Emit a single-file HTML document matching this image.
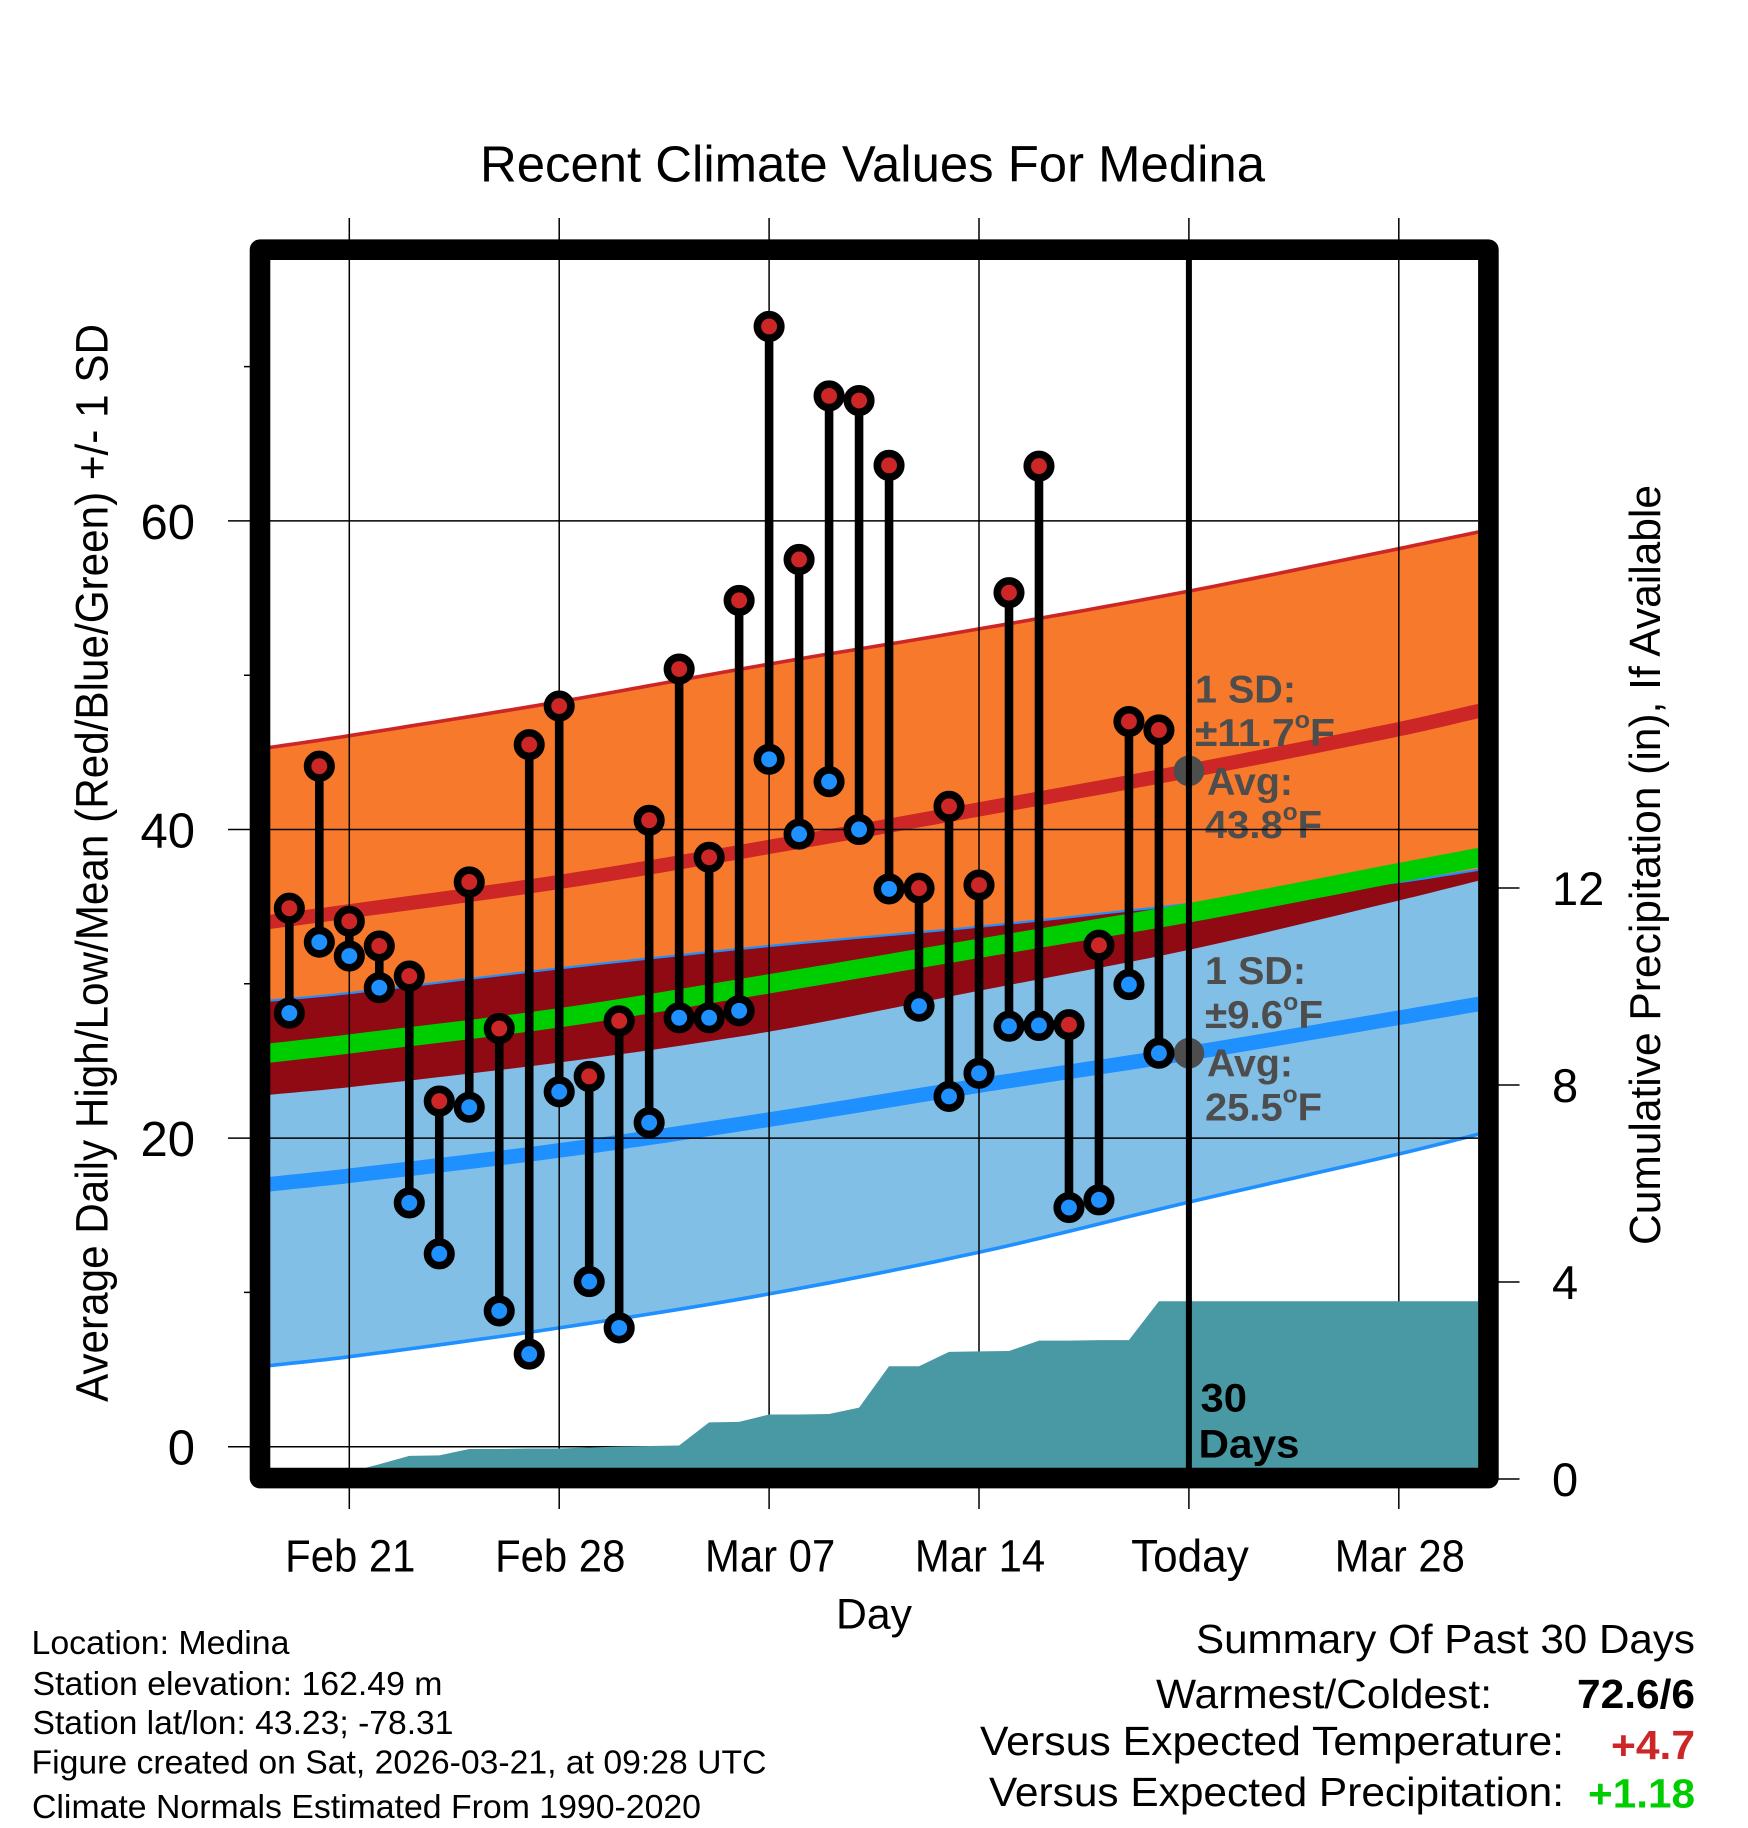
<!DOCTYPE html>
<html lang="en">
<head>
<meta charset="utf-8">
<title>Recent Climate Values For Medina</title>
<style>
  html, body { margin: 0; padding: 0; background: #fff; }
  svg { display: block; font-family: "Liberation Sans", Arial, sans-serif; }
</style>
</head>
<body>
<svg xmlns="http://www.w3.org/2000/svg" width="1748" height="1828" viewBox="0 0 1748 1828">
  <defs>
    <clipPath id="plot-clip"><rect x="270" y="260" width="1208" height="1208"/></clipPath>
  </defs>
  <rect x="0" y="0" width="1748" height="1828" fill="#ffffff"/>

  <g id="bands" clip-path="url(#plot-clip)"></g>

  <g id="annotations" fill="#4d4d4d" font-weight="700" font-size="39">
    <text x="1195" y="702.6" textLength="101" lengthAdjust="spacingAndGlyphs">1 SD:</text>
    <text x="1195" y="746" textLength="140" lengthAdjust="spacingAndGlyphs">±11.7<tspan dy="-18" font-size="24">o</tspan><tspan dy="18">F</tspan></text>
    <text x="1207" y="795" textLength="86" lengthAdjust="spacingAndGlyphs">Avg:</text>
    <text x="1205" y="838" textLength="117" lengthAdjust="spacingAndGlyphs">43.8<tspan dy="-18" font-size="24">o</tspan><tspan dy="18">F</tspan></text>
    <text x="1205" y="984" textLength="101" lengthAdjust="spacingAndGlyphs">1 SD:</text>
    <text x="1205" y="1028" textLength="118" lengthAdjust="spacingAndGlyphs">±9.6<tspan dy="-18" font-size="24">o</tspan><tspan dy="18">F</tspan></text>
    <text x="1207" y="1076.5" textLength="86" lengthAdjust="spacingAndGlyphs">Avg:</text>
    <text x="1205" y="1120.5" textLength="117" lengthAdjust="spacingAndGlyphs">25.5<tspan dy="-18" font-size="24">o</tspan><tspan dy="18">F</tspan></text>
  </g>

  <g id="grid"></g>
  <g id="precip" clip-path="url(#plot-clip)"></g>
  <g id="today"></g>
  <g id="stems"></g>
  <g id="dots"></g>

  <text x="1200.5" y="1411.7" font-size="40" font-weight="700" textLength="46.5" lengthAdjust="spacingAndGlyphs">30</text>
  <text x="1198.5" y="1457.3" font-size="40" font-weight="700" textLength="101" lengthAdjust="spacingAndGlyphs">Days</text>

  <rect x="260" y="249.7" width="1228.4" height="1228.4" fill="none" stroke="#000" stroke-width="20.6" stroke-linejoin="round"/>

  <g id="tick-labels"></g>

  <text x="480" y="181.7" font-size="51" textLength="785" lengthAdjust="spacingAndGlyphs">Recent Climate Values For Medina</text>
  <text transform="translate(107.5,1402) rotate(-90)" font-size="45" textLength="1078" lengthAdjust="spacingAndGlyphs">Average Daily High/Low/Mean (Red/Blue/Green) +/- 1 SD</text>
  <text transform="translate(1660,1245) rotate(-90)" font-size="44" textLength="760" lengthAdjust="spacingAndGlyphs">Cumulative Precipitation (in), If Available</text>
  <text x="836" y="1628.5" font-size="43" textLength="76" lengthAdjust="spacingAndGlyphs">Day</text>

  <g font-size="33.5">
    <text x="31.5" y="1654" textLength="258" lengthAdjust="spacingAndGlyphs">Location: Medina</text>
    <text x="32.5" y="1695" textLength="410" lengthAdjust="spacingAndGlyphs">Station elevation: 162.49 m</text>
    <text x="32.5" y="1734" textLength="421" lengthAdjust="spacingAndGlyphs">Station lat/lon: 43.23; -78.31</text>
    <text x="31.5" y="1773.3" textLength="735" lengthAdjust="spacingAndGlyphs">Figure created on Sat, 2026-03-21, at 09:28 UTC</text>
    <text x="32" y="1817.8" textLength="669" lengthAdjust="spacingAndGlyphs">Climate Normals Estimated From 1990-2020</text>
  </g>

  <g font-size="41">
    <text x="1196" y="1653" textLength="499" lengthAdjust="spacingAndGlyphs">Summary Of Past 30 Days</text>
    <text x="1156" y="1708" textLength="336" lengthAdjust="spacingAndGlyphs">Warmest/Coldest:</text>
    <text x="1577" y="1708" font-weight="700" textLength="118" lengthAdjust="spacingAndGlyphs">72.6/6</text>
    <text x="980" y="1755" textLength="584" lengthAdjust="spacingAndGlyphs">Versus Expected Temperature:</text>
    <text x="1611" y="1759" font-weight="700" fill="#cd2626" textLength="84" lengthAdjust="spacingAndGlyphs">+4.7</text>
    <text x="989" y="1806" textLength="575" lengthAdjust="spacingAndGlyphs">Versus Expected Precipitation:</text>
    <text x="1588" y="1807.7" font-weight="700" fill="#00cd00" textLength="107" lengthAdjust="spacingAndGlyphs">+1.18</text>
  </g>
</svg>

<script>
// ---- Daily observations (one entry per day, Feb 19 .. Mar 20) ----
const dailyDays = [-2,-1,0,1,2,3,4,5,6,7,8,9,10,11,12,13,14,15,16,17,18,19,20,21,22,23,24,25,26,27];
const dailyHighs = [34.9,44.1,34.05,32.45,30.5,22.4,36.6,27.1,45.5,48.0,24.0,27.6,40.6,50.4,38.2,54.85,72.6,57.5,68.1,67.8,63.6,36.2,41.5,36.4,55.35,63.55,27.35,32.5,47.0,46.45];
const dailyLows = [28.1,32.7,31.8,29.75,15.8,12.5,22.0,8.8,6.0,23.0,10.7,7.7,21.0,27.8,27.8,28.25,44.55,39.7,43.1,40.0,36.15,28.55,22.7,24.2,27.25,27.3,15.5,16.0,29.95,25.5];
const dailyPrecip = [0,0,0.14,0.3,0.47,0.48,0.61,0.61,0.62,0.62,0.64,0.66,0.67,0.68,1.15,1.16,1.31,1.31,1.32,1.45,2.29,2.29,2.58,2.59,2.6,2.81,2.81,2.82,2.82,3.61];

// ---- Climate normals, sampled in days since Feb 21 ----
const normalDays = [-2.7,0,7,14,21,28,35,37.7];
const normalHighUpper = [45.3,46.08,48.28,50.72,53.0,55.45,58.2,59.3];
const normalHighMean = [34.0,34.7,36.6,38.87,41.3,43.8,46.5,47.7];
const normalHighLower = [22.8,23.3,24.9,26.9,29.55,32.2,35.4,36.7];
const normalLowUpper = [28.9,29.4,31.0,32.45,33.7,35.17,36.6,37.4];
const normalLowMean = [17.0,17.56,19.2,21.2,23.4,25.5,27.8,28.7];
const normalLowLower = [5.25,5.83,7.7,9.9,12.6,15.85,18.97,20.27];
const normalAvgMean = [25.5,26.1,27.8,30.0,32.3,34.6,37.2,38.2];

// ---- Axis ticks ----
const xTickDays = [0,7,14,21,28,35];
const xTickLabels = ["Feb 21","Feb 28","Mar 07","Mar 14","Today","Mar 28"];
const yMajorTicks = [0,20,40,60];
const yMinorTicks = [10,30,50,70];
const precipTicks = [0,4,8,12];
const todayDay = 28;
const todayHighAvg = 43.8;
const todayLowAvg = 25.5;

// ---- Axis functions ----
function xScale(day) { return 349.3 + 29.986 * day; }
function yScale(temp) { return 1446.7 - 15.43 * temp; }
function pScale(inches) { return 1479 - 49.25 * inches; }

const NS = "http://www.w3.org/2000/svg";
function make(tag, parentId, attrs) {
  const node = document.createElementNS(NS, tag);
  for (const key in attrs) node.setAttribute(key, attrs[key]);
  document.getElementById(parentId).appendChild(node);
  return node;
}
// Renders a smooth curve through the sampled normals (Hermite segments through each sample).
function curvePoints(vals) {
  const n = vals.length;
  const slopes = [];
  for (let i = 0; i < n; i++) {
    const a = Math.max(i - 1, 0), b = Math.min(i + 1, n - 1);
    slopes.push((vals[b] - vals[a]) / (normalDays[b] - normalDays[a]));
  }
  const pts = [];
  for (let i = 0; i < n - 1; i++) {
    const h = normalDays[i + 1] - normalDays[i];
    for (let k = 0; k < 10; k++) {
      const t = k / 10, t2 = t * t, t3 = t2 * t;
      const v = (2 * t3 - 3 * t2 + 1) * vals[i] + (t3 - 2 * t2 + t) * h * slopes[i] +
                (-2 * t3 + 3 * t2) * vals[i + 1] + (t3 - t2) * h * slopes[i + 1];
      pts.push(xScale(normalDays[i] + t * h).toFixed(1) + "," + yScale(v).toFixed(1));
    }
  }
  pts.push(xScale(normalDays[n - 1]).toFixed(1) + "," + yScale(vals[n - 1]).toFixed(1));
  return pts;
}
function linePoints(vals) {
  return curvePoints(vals).join(" ");
}
function bandPoints(upper, lower) {
  return curvePoints(upper).concat(curvePoints(lower).reverse()).join(" ");
}
let el;

// ---- Bands ----
el = make("polygon", "bands", { points: bandPoints(normalHighUpper, normalHighLower), fill: "#f7792b" });


el = make("polygon", "bands", { points: bandPoints(normalLowUpper, normalLowLower), fill: "#82bfe6" });


el = make("polygon", "bands", { points: bandPoints(normalLowUpper, normalHighLower), fill: "#8f0a12" });


el = make("polyline", "bands", { points: linePoints(normalLowUpper), fill: "none", stroke: "#1e90ff", "stroke-width": 2.2, "stroke-linecap": "square" });


el = make("polyline", "bands", { points: linePoints(normalHighUpper), fill: "none", stroke: "#cd2626", "stroke-width": 3.6, "stroke-linecap": "square" });


el = make("polyline", "bands", { points: linePoints(normalLowLower), fill: "none", stroke: "#1e90ff", "stroke-width": 3.6, "stroke-linecap": "square" });


el = make("polyline", "bands", { points: linePoints(normalHighMean), fill: "none", stroke: "#cd2626", "stroke-width": 14.2, "stroke-linecap": "square", "stroke-linejoin": "round" });


el = make("polyline", "bands", { points: linePoints(normalLowMean), fill: "none", stroke: "#1e90ff", "stroke-width": 14.6, "stroke-linecap": "square", "stroke-linejoin": "round" });


el = make("polyline", "bands", { points: linePoints(normalAvgMean), fill: "none", stroke: "#00cd00", "stroke-width": 19.2, "stroke-linecap": "square", "stroke-linejoin": "round" });



// ---- Grid and ticks ----
xTickDays.forEach(function (d) {
  const gridX = make("line", "grid", { x1: xScale(d), x2: xScale(d), y1: 218, y2: 1509, stroke: "#000", "stroke-width": 1.5 });
  
  
});
yMajorTicks.forEach(function (v) {
  const gridY = make("line", "grid", { x1: 228, x2: 1478, y1: yScale(v), y2: yScale(v), stroke: "#000", "stroke-width": 1.5 });
  
  
});
yMinorTicks.forEach(function (v) {
  const minor = make("line", "grid", { x1: 244, x2: 262, y1: yScale(v), y2: yScale(v), stroke: "#000", "stroke-width": 1.5 });
  
  
});
precipTicks.forEach(function (v) {
  const tick = make("line", "grid", { x1: 1488, x2: 1519.5, y1: pScale(v), y2: pScale(v), stroke: "#000", "stroke-width": 1.5 });
  
  
});

// ---- Precipitation area ----
(function () {
  const rightEdge = normalDays[normalDays.length - 1];
  const pts = dailyDays.map((d, i) => xScale(d).toFixed(1) + "," + pScale(dailyPrecip[i]).toFixed(1));
  pts.push(xScale(rightEdge).toFixed(1) + "," + pScale(dailyPrecip[dailyPrecip.length - 1]).toFixed(1));
  pts.push(xScale(rightEdge).toFixed(1) + "," + pScale(0).toFixed(1));
  pts.push(xScale(dailyDays[0]).toFixed(1) + "," + pScale(0).toFixed(1));
  const area = make("polygon", "precip", { points: pts.join(" "), fill: "#4899a4" });
  
  
})();

// ---- Today marker ----
[todayHighAvg, todayLowAvg].forEach(function (v) {
  const mark = make("circle", "today", { cx: xScale(todayDay), cy: yScale(v), r: 15.3, fill: "#4d4d4d" });
  
  
});
el = make("line", "today", { x1: xScale(todayDay), x2: xScale(todayDay), y1: 260, y2: 1468, stroke: "#000", "stroke-width": 6 });



// ---- Daily stems and dots ----
dailyDays.forEach(function (d, i) {
  const stem = make("line", "stems", { x1: xScale(d), x2: xScale(d), y1: yScale(dailyHighs[i]), y2: yScale(dailyLows[i]), stroke: "#000", "stroke-width": 8.6 });
  
  
});
dailyDays.forEach(function (d, i) {
  const hi = make("circle", "dots", { cx: xScale(d), cy: yScale(dailyHighs[i]), r: 11.75, fill: "#cd2626", stroke: "#000", "stroke-width": 7.6 });
  
  
});
dailyDays.forEach(function (d, i) {
  const lo = make("circle", "dots", { cx: xScale(d), cy: yScale(dailyLows[i]), r: 11.75, fill: "#1e90ff", stroke: "#000", "stroke-width": 7.6 });
  
  
});

// ---- Tick labels ----
xTickDays.forEach(function (d, i) {
  const squeeze = xTickLabels[i] === "Today" ? 0.98 : 0.93;
  const label = make("text", "tick-labels", { transform: "translate(" + (xScale(d) + 1) + ",1571.7) scale(" + squeeze + ",1)", "text-anchor": "middle", "font-size": 45 });
  label.textContent = xTickLabels[i];
  
  
});
yMajorTicks.forEach(function (v) {
  const label = make("text", "tick-labels", { x: 195, y: yScale(v) + 18, "text-anchor": "end", "font-size": 49 });
  label.textContent = String(v);
  
  
});
precipTicks.forEach(function (v) {
  const label = make("text", "tick-labels", { x: 1552, y: pScale(v) + 17, "font-size": 47 });
  label.textContent = String(v);
  
  
});
</script>
</body>
</html>
